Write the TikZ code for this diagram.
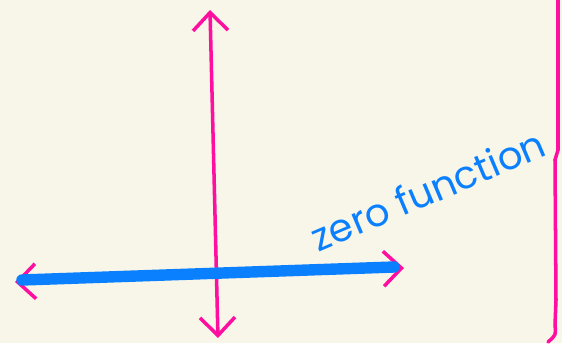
\documentclass[tikz,border=0pt]{standalone}
\usepackage{fontspec}
\setmainfont{Poppins}
\usepackage{xcolor}
\usetikzlibrary{arrows.meta,positioning}
\definecolor{paper}{HTML}{F8F5E9}
\definecolor{pinkax}{HTML}{FF0FA0}
\definecolor{penblue}{HTML}{0A80FF}

\begin{document}
\begin{tikzpicture}[
  x=0.02cm,y=-0.02cm,
  axis/.style={pinkax,line width=2pt,line cap=round,
    {Straight Barb[length=3.6mm,width=7mm,line width=2pt]}-{Straight Barb[length=3.6mm,width=7mm,line width=2pt]}},
  zero/.style={penblue,line width=6.5pt,line cap=round},
  label/.style={penblue,font=\fontsize{22}{22}\selectfont,rotate=23,inner sep=0pt}
]
\fill[paper] (0,0) rectangle (562,343);
\useasboundingbox (0,0) rectangle (562,343);

\coordinate (ytop) at (210,10);
\coordinate (ybot) at (218,338);
\coordinate (xleft) at (15,282);
\coordinate (xright) at (404,268);
\coordinate (zleft) at (22,280);
\coordinate (zright) at (394,267);

\draw[axis] (ybot) -- (ytop);
\draw[axis] (xleft) -- (xright);
\draw[zero] (zleft) -- (zright);

% right edge stroke
\draw[pinkax,line width=2pt,line cap=round]
  (558,0) -- (558,150) -- (555,160) -- (556,300) -- (555,325) .. controls (556,335) .. (548,342);

\node[label] (zf) at (428,190) {zero function};
\end{tikzpicture}
\end{document}
